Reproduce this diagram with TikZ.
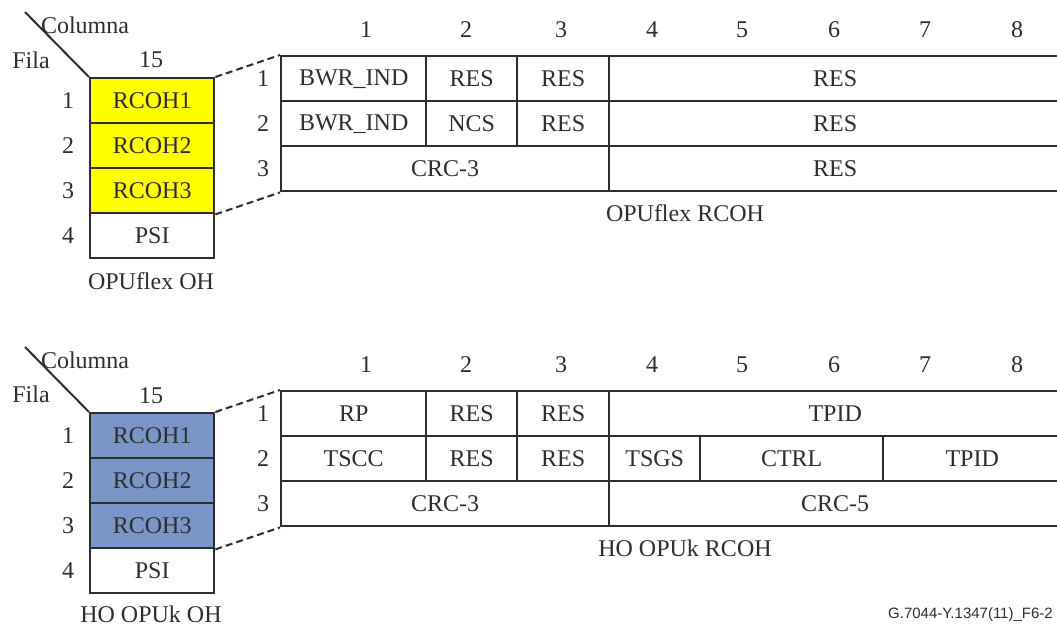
\documentclass[tikz,border=0pt]{standalone}
\usepackage{fontspec}
\setmainfont{Liberation Serif}
\setsansfont{Liberation Sans}
\usetikzlibrary{positioning}
\definecolor{ohyellow}{RGB}{255,255,0}
\definecolor{ohblue}{RGB}{122,150,200}
\definecolor{ink}{RGB}{45,45,45}
\tikzset{
  cell/.style={draw=ink, line width=2.4pt, minimum height=45pt, inner sep=0pt, anchor=north west},
  lbl/.style={inner sep=0pt, text=ink},
  zoomline/.style={draw=ink, line width=2pt, dash pattern=on 7pt off 4pt},
}
\begin{document}
\begin{tikzpicture}[x=1pt, y=-1pt, font=\fontsize{24}{27}\selectfont, text=ink]
    \useasboundingbox (0,0) rectangle (1057,627);

    % ---- OPUflex ----
    % OH column
    \node[cell, fill=ohyellow, minimum width=124pt] (fa) at (89,77) {RCOH1};
    \node[cell, fill=ohyellow, minimum width=124pt] (fb) at (89,122) {RCOH2};
    \node[cell, fill=ohyellow, minimum width=124pt] (fc) at (89,167) {RCOH3};
    \node[cell, minimum width=124pt] (fd) at (89,212) {PSI};
    \draw[ink, line width=2pt] (25,12) -- (fa.north west);
    \node[lbl] (fcol) at (85,25) {Columna};
    \node[lbl] (ffila) at (31,60) {Fila};
    \node[lbl] (f15) at (151,60) {15};
    \foreach \r/\cl in {1/fa,2/fb,3/fc,4/fd}
        \node[lbl] at (68,0 |- \cl.center) {\r};
    \node[lbl] (foh) at (151,281) {OPUflex OH};

    % RCOH table
    \node[cell, minimum width=145pt] (f11) at (280,55) {BWR\_IND};
    \node[cell, minimum width=91pt] (f12) at (425,55) {RES};
    \node[cell, minimum width=92pt] (f13) at (516,55) {RES};
    \node[cell, minimum width=452pt] (f14) at (608,55) {RES};
    \node[cell, minimum width=145pt] (f21) at (280,100) {BWR\_IND};
    \node[cell, minimum width=91pt] (f22) at (425,100) {NCS};
    \node[cell, minimum width=92pt] (f23) at (516,100) {RES};
    \node[cell, minimum width=452pt] (f24) at (608,100) {RES};
    \node[cell, minimum width=328pt] (f31) at (280,145) {CRC-3};
    \node[cell, minimum width=452pt] (f32) at (608,145) {RES};
    \foreach \c/\x in {1/366,2/466,3/561,4/652,5/742,6/834,7/925,8/1017}
        \node[lbl] at (\x,30) {\c};
    \foreach \r/\cl in {1/f11,2/f21,3/f31}
        \node[lbl] at (263,0 |- \cl.center) {\r};
    \node[lbl] (frcoh) at (685,213) {OPUflex RCOH};

    \draw[zoomline] (fa.north east) -- (f11.north west);
    \draw[zoomline] (fc.south east) -- (f31.south west);

    % ---- HO OPUk ----
    % OH column
    \node[cell, fill=ohblue, minimum width=124pt] (ha) at (89,412) {RCOH1};
    \node[cell, fill=ohblue, minimum width=124pt] (hb) at (89,457) {RCOH2};
    \node[cell, fill=ohblue, minimum width=124pt] (hc) at (89,502) {RCOH3};
    \node[cell, minimum width=124pt] (hd) at (89,547) {PSI};
    \draw[ink, line width=2pt] (25,347) -- (ha.north west);
    \node[lbl] (hcol) at (85,360) {Columna};
    \node[lbl] (hfila) at (31,394) {Fila};
    \node[lbl] (h15) at (151,396) {15};
    \foreach \r/\cl in {1/ha,2/hb,3/hc,4/hd}
        \node[lbl] at (68,0 |- \cl.center) {\r};
    \node[lbl] (hoh) at (151,614) {HO OPUk OH};

    % RCOH table
    \node[cell, minimum width=145pt] (h11) at (280,390) {RP};
    \node[cell, minimum width=91pt] (h12) at (425,390) {RES};
    \node[cell, minimum width=92pt] (h13) at (516,390) {RES};
    \node[cell, minimum width=452pt] (h14) at (608,390) {TPID};
    \node[cell, minimum width=145pt] (h21) at (280,435) {TSCC};
    \node[cell, minimum width=91pt] (h22) at (425,435) {RES};
    \node[cell, minimum width=92pt] (h23) at (516,435) {RES};
    \node[cell, minimum width=91pt] (h24) at (608,435) {TSGS};
    \node[cell, minimum width=183pt] (h25) at (699,435) {CTRL};
    \node[cell, minimum width=178pt] (h26) at (882,435) {TPID};
    \node[cell, minimum width=328pt] (h31) at (280,480) {CRC-3};
    \node[cell, minimum width=452pt] (h32) at (608,480) {CRC-5};
    \foreach \c/\x in {1/366,2/466,3/561,4/652,5/742,6/834,7/925,8/1017}
        \node[lbl] at (\x,365) {\c};
    \foreach \r/\cl in {1/h11,2/h21,3/h31}
        \node[lbl] at (263,0 |- \cl.center) {\r};
    \node[lbl] (hrcoh) at (685,548) {HO OPUk RCOH};

    \draw[zoomline] (ha.north east) -- (h11.north west);
    \draw[zoomline] (hc.south east) -- (h31.south west);

    \node[lbl, anchor=west, font=\sffamily\fontsize{15}{17}\selectfont] (fig) at (888,615) {G.7044-Y.1347(11)\_F6-2};
\end{tikzpicture}
\end{document}
